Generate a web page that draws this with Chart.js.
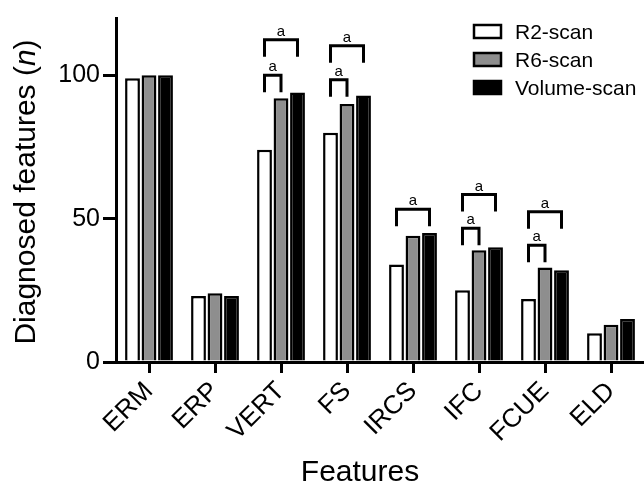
<!DOCTYPE html>
<html>
<head>
<meta charset="utf-8">
<script src="https://cdn.jsdelivr.net/npm/chart.js@4"></script>
<style>
  html, body { margin: 0; padding: 0; background: #fff; }
  #wrap { width: 644px; height: 494px; position: relative; }
</style>
</head>
<body>
<div id="wrap"><canvas id="scanChart"></canvas></div>
<script>
const features = ['ERM', 'ERP', 'VERT', 'FS', 'IRCS', 'IFC', 'FCUE', 'ELD'];
const r2Scan = [99, 23, 74, 80, 34, 25, 22, 10];
const r6Scan = [100, 24, 92, 90, 44, 39, 33, 13];
const volumeScan = [100, 23, 94, 93, 45, 40, 32, 15];
const yTicks = [0, 50, 100];

// significance brackets: [feature index, from series, to series, bracket level]
const brackets = [
  [2, 0, 2, 112.4],
  [2, 0, 1, 100],
  [3, 0, 2, 110.3],
  [3, 0, 1, 98.5],
  [4, 0, 2, 53.3],
  [5, 0, 2, 58.4],
  [5, 0, 1, 46.7],
  [6, 0, 2, 52.4],
  [6, 0, 1, 40.7]
];

const FONT = '"Liberation Sans", Arial, Helvetica, sans-serif';

const bracketPlugin = {
  id: 'brackets',
  afterDatasetsDraw(chart) {
    const c = chart.ctx;
    const y = chart.scales.y;
    c.save();
    c.strokeStyle = '#000';
    c.lineWidth = 3;
    c.fillStyle = '#000';
    c.font = '15px ' + FONT;
    c.textAlign = 'center';
    c.textBaseline = 'alphabetic';
    brackets.forEach(([idx, from, to, level]) => {
      const x1 = chart.getDatasetMeta(from).data[idx].x;
      const x2 = chart.getDatasetMeta(to).data[idx].x;
      const yy = y.getPixelForValue(level);
      c.beginPath();
      c.moveTo(x1, yy + 17);
      c.lineTo(x1, yy);
      c.lineTo(x2, yy);
      c.lineTo(x2, yy + 17);
      c.stroke();
      c.fillText('a', (x1 + x2) / 2, yy - 4);
    });
    c.restore();
  }
};

const labelsPlugin = {
  id: 'labelsAndLegend',
  afterDraw(chart) {
    const c = chart.ctx;
    c.save();
    // legend
    c.font = '21px ' + FONT;
    c.textBaseline = 'middle';
    c.textAlign = 'left';
    chart.data.datasets.forEach((ds, i) => {
      const top = 25 + i * 28;
      c.fillStyle = ds.backgroundColor;
      c.fillRect(474, top, 27, 13);
      c.strokeStyle = '#000';
      c.lineWidth = 2.5;
      c.strokeRect(474, top, 27, 13);
      c.fillStyle = '#000';
      c.fillText(ds.label, 515, top + 8);
    });
    // x axis title
    c.font = '30px ' + FONT;
    c.textAlign = 'center';
    c.textBaseline = 'alphabetic';
    c.fillText('Features', 360, 481);
    // y axis title with italic n
    const area = chart.chartArea;
    const parts = [
      ['Diagnosed features (', '30px ' + FONT],
      ['n', 'italic 30px ' + FONT],
      [')', '30px ' + FONT]
    ];
    let total = 0;
    parts.forEach(p => { c.font = p[1]; total += c.measureText(p[0]).width; });
    c.translate(35, (area.top + area.bottom) / 2 + 2);
    c.rotate(-Math.PI / 2);
    c.textAlign = 'left';
    let x = -total / 2;
    parts.forEach(p => {
      c.font = p[1];
      c.fillText(p[0], x, 0);
      x += c.measureText(p[0]).width;
    });
    c.restore();
  }
};

const ctx = document.getElementById('scanChart').getContext('2d');

new Chart(ctx, {
  type: 'bar',
  data: {
    labels: features,
    datasets: [
      { label: 'R2-scan', data: r2Scan, backgroundColor: '#ffffff' },
      { label: 'R6-scan', data: r6Scan, backgroundColor: '#8e8e8e' },
      { label: 'Volume-scan', data: volumeScan, backgroundColor: '#000000' }
    ]
  },
  options: {
    responsive: true,
    maintainAspectRatio: false,
    animation: false,
    layout: { padding: { top: 10, right: -4, bottom: 0, left: 0 } },
    datasets: {
      bar: {
        borderColor: '#000',
        borderWidth: 2.5,
        borderSkipped: 'start',
        categoryPercentage: 0.75,
        barPercentage: 0.9
      }
    },
    scales: {
      x: {
        offset: true,
        border: { color: '#000', width: 3 },
        grid: {
          offset: false,
          drawOnChartArea: false,
          color: '#000',
          lineWidth: 3,
          tickLength: 11
        },
        ticks: {
          color: '#000',
          font: { family: FONT, size: 26 },
          minRotation: 45,
          maxRotation: 45,
          autoSkip: false,
          padding: 3
        },
        afterFit(scale) { scale.height = 132; }
      },
      y: {
        min: 0,
        max: 120,
        border: { color: '#000', width: 3 },
        grid: {
          drawOnChartArea: false,
          color: '#000',
          lineWidth: 3,
          tickLength: 13
        },
        ticks: {
          color: '#000',
          font: { family: FONT, size: 25 },
          padding: 3
        },
        afterBuildTicks(scale) {
          scale.ticks = yTicks.map(v => ({ value: v }));
        },
        afterFit(scale) { scale.width = 116; }
      }
    },
    plugins: {
      legend: { display: false },
      tooltip: { enabled: false }
    }
  },
  plugins: [bracketPlugin, labelsPlugin]
});
</script>
</body>
</html>
